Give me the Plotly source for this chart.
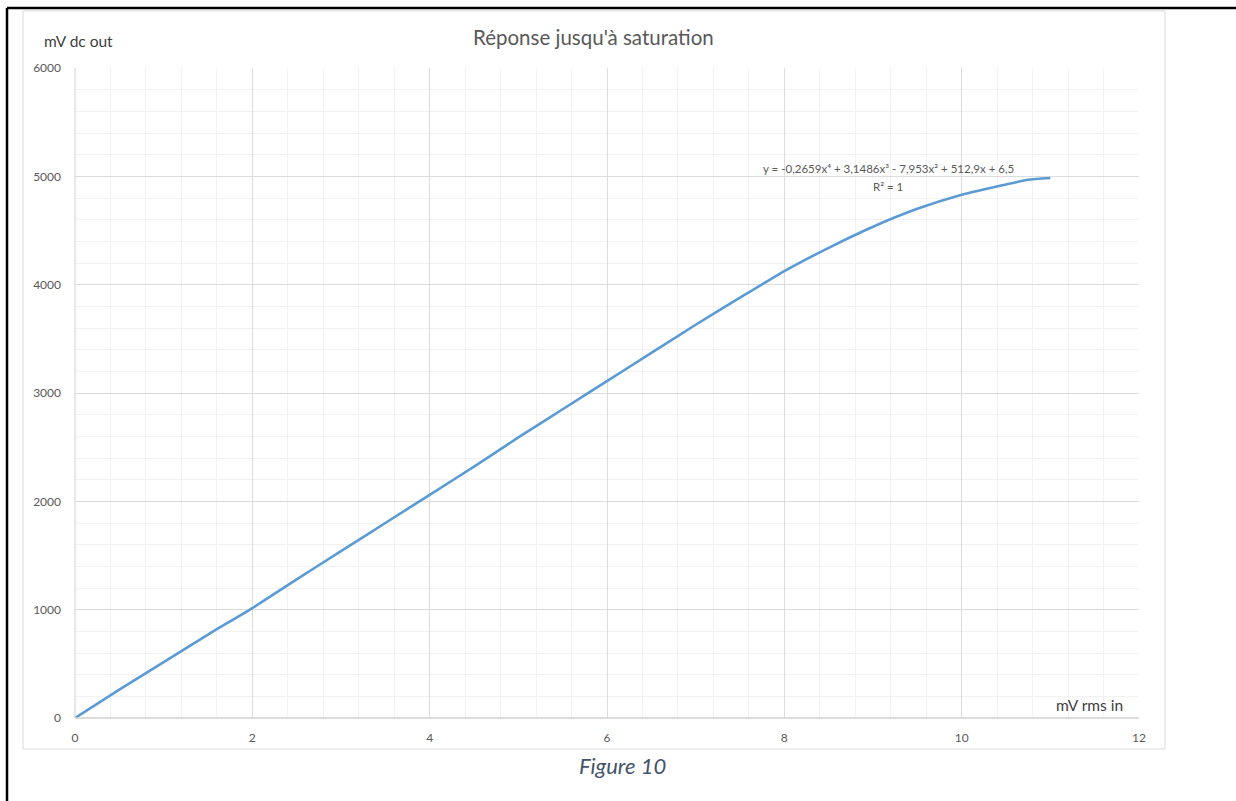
import plotly.graph_objects as go

# Measured response: input level (mV rms) vs detector output (mV dc)
mv_rms_in = [0, 0.5, 1, 1.5, 2, 2.5, 3, 3.5, 4, 4.5, 5, 5.5, 6, 6.5, 7,
             7.5, 8, 8.5, 9, 9.5, 10, 10.5, 10.75, 11]
mv_dc_out = [0, 262, 515, 770, 1015, 1280, 1540, 1800, 2060, 2320, 2590,
             2850, 3110, 3370, 3630, 3880, 4125, 4340, 4535, 4700, 4830,
             4925, 4968, 4985]

title_text = "Réponse jusqu'à saturation"
y_title = "mV dc out"
x_title = "mV rms in"
trend_eq = "y = -0,2659x⁴ + 3,1486x³ - 7,953x² + 512,9x + 6,5"
trend_r2 = "R² = 1"
caption = "Figure 10"

W, H = 1236, 801
L, R, T, B = 75, 1139, 68, 718  # plot area in pixels


def px(x):
    return (x - L) / (R - L)


def py(y):
    return (B - y) / (B - T)


FONT = "Lato, 'Open Sans', sans-serif"

fig = go.Figure()
fig.add_trace(go.Scatter(
    x=mv_rms_in, y=mv_dc_out, mode="lines",
    line=dict(color="#5B9BD5", width=2.6, shape="spline", smoothing=0.5),
    showlegend=False, hoverinfo="x+y",
))

axis_common = dict(
    showgrid=True, gridcolor="#DCDCDC", gridwidth=1,
    zeroline=False, ticks="", showline=False,
    tickfont=dict(family=FONT, size=12, color="#595959"),
    fixedrange=True,
)

fig.update_xaxes(range=[0, 12], dtick=2, tick0=0,
                 minor=dict(dtick=0.4, showgrid=True, gridcolor="#F2F2F2"),
                 ticklabelstandoff=11, **axis_common)
fig.update_yaxes(range=[0, 6000], dtick=1000, tick0=0,
                 minor=dict(dtick=200, showgrid=True, gridcolor="#F2F2F2"),
                 ticklabelstandoff=13, **axis_common)

shapes = [
    # chart frame
    dict(type="rect", xref="paper", yref="paper",
         x0=px(23), x1=px(1165), y0=py(749), y1=py(11),
         line=dict(color="#D9D9D9", width=1), layer="below"),
    # axis lines
    dict(type="line", xref="paper", yref="paper",
         x0=0, x1=1, y0=0, y1=0, line=dict(color="#D0D0D0", width=1.5)),
    dict(type="line", xref="paper", yref="paper",
         x0=0, x1=0, y0=0, y1=1, line=dict(color="#D0D0D0", width=1)),
    # page box
    dict(type="line", xref="paper", yref="paper",
         x0=px(7), x1=px(1240), y0=py(8), y1=py(8),
         line=dict(color="black", width=2.5)),
    dict(type="line", xref="paper", yref="paper",
         x0=px(7), x1=px(7), y0=py(8), y1=py(805),
         line=dict(color="black", width=2.5)),
]

annotations = [
    dict(text=title_text, x=px(593), y=py(37), xref="paper", yref="paper",
         showarrow=False, xanchor="center", yanchor="middle",
         font=dict(family=FONT, size=20.5, color="#595959")),
    dict(text=y_title, x=px(42), y=py(41), xref="paper", yref="paper",
         showarrow=False, xanchor="left", yanchor="middle",
         font=dict(family=FONT, size=15.5, color="#404040")),
    dict(text=x_title, x=px(1125), y=py(705), xref="paper", yref="paper",
         showarrow=False, xanchor="right", yanchor="middle",
         font=dict(family=FONT, size=15.5, color="#404040")),
    dict(text=trend_eq, x=px(888), y=py(169), xref="paper", yref="paper",
         showarrow=False, xanchor="center", yanchor="middle",
         font=dict(family=FONT, size=11.5, color="#595959")),
    dict(text=trend_r2, x=px(888), y=py(186), xref="paper", yref="paper",
         showarrow=False, xanchor="center", yanchor="middle",
         font=dict(family=FONT, size=11.5, color="#595959")),
    dict(text="<i>" + caption + "</i>", x=px(622), y=py(765),
         xref="paper", yref="paper",
         showarrow=False, xanchor="center", yanchor="middle",
         font=dict(family=FONT, size=22, color="#44546A")),
]

fig.update_layout(
    width=W, height=H, autosize=False,
    margin=dict(l=L, r=W - R, t=T, b=H - B, pad=0),
    paper_bgcolor="white", plot_bgcolor="white",
    shapes=shapes, annotations=annotations,
    showlegend=False,
)

fig.write_html("out.html", include_plotlyjs=True, full_html=True,
               config=dict(displayModeBar=False))
